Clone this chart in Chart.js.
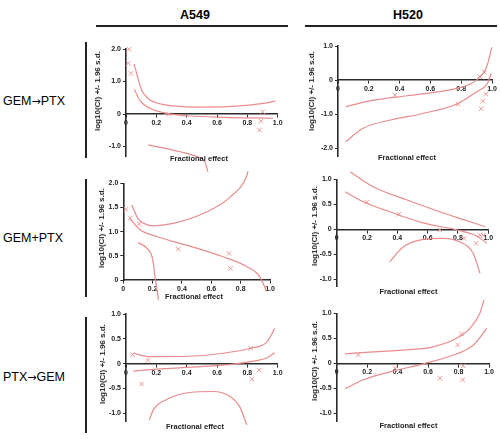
<!DOCTYPE html>
<html><head><meta charset="utf-8">
<script src="https://cdn.jsdelivr.net/npm/chart.js@4/dist/chart.umd.min.js"></script>
<style>
html,body{margin:0;padding:0;background:#fff;}
body{width:500px;height:439px;overflow:hidden;position:relative;font-family:"Liberation Sans",Arial,sans-serif;}
canvas{position:absolute;}
.t{position:absolute;white-space:nowrap;color:#111;transform:translate(-50%,-50%);line-height:1;}
.ry{transform:translate(-50%,-50%) rotate(-90deg);font-weight:bold;font-size:8px;color:#222;}
.fx{font-weight:bold;font-size:7.5px;color:#222;}
.hd{font-weight:bold;font-size:12.5px;color:#000;}
.rl{font-size:12.5px;color:#000;transform:translate(0,-50%);}
.ar{font-family:"DejaVu Sans",sans-serif;font-size:11px;}
.bar{position:absolute;background:#222;}
</style></head><body>
<div class="t hd" style="left:195px;top:15px">A549</div>
<div class="t hd" style="left:408px;top:15px">H520</div>
<div class="bar" style="left:96px;top:25px;width:192px;height:2px"></div>
<div class="bar" style="left:305px;top:25px;width:192px;height:2px"></div>
<div class="t rl" style="left:3px;top:101px">GEM<span class="ar">→</span>PTX</div>
<div class="t rl" style="left:3px;top:238px">GEM+PTX</div>
<div class="t rl" style="left:3px;top:377px">PTX<span class="ar">→</span>GEM</div>
<div class="bar" style="left:85px;top:42px;width:1.6px;height:116px"></div>
<div class="bar" style="left:85px;top:179px;width:1.6px;height:118px"></div>
<div class="bar" style="left:85px;top:317px;width:1.6px;height:116px"></div>
<script>
// ---- tick labels ----
const xTicks = [0, 0.2, 0.4, 0.6, 0.8, 1.0];
const yTicksA549Seq = [-1, 0, 1, 2];
const yTicksH520Seq = [-2, -1, 0, 1];
const yTicksA549Comb = [0, 0.5, 1, 1.5, 2];
const yTicksH520Comb = [-1, -0.5, 0, 0.5, 1];
const yTicksA549Rev = [-1, -0.5, 0, 0.5, 1];
const yTicksH520Rev = [-1, -0.5, 0, 0.5, 1];

// ---- A549 GEM->PTX ----
const a549SeqPoints = [[0.02,1.99],[0.015,1.56],[0.033,1.25],[0.283,-0.01],[0.9,0.07],[0.89,-0.22],[0.88,-0.49]];
const a549SeqUpper = [[0.053,1.54],[0.103,0.74],[0.125,0.58],[0.158,0.43],[0.31,0.25],[0.53,0.21],[0.75,0.25],[0.905,0.33],[0.987,0.4]];
const a549SeqLower = [[0.055,0.76],[0.092,0.41],[0.158,0.18],[0.27,0.02],[0.42,-0.06],[0.64,-0.1],[0.97,-0.13]];
const a549SeqBottom = [[0.147,-0.95],[0.356,-1.16],[0.466,-1.31],[0.52,-1.47],[0.54,-1.78]];

// ---- H520 GEM->PTX ----
const h520SeqPoints = [[0.37,-0.44],[0.78,-0.70],[0.92,0.10],[0.95,0.23],[0.96,-0.41],[0.94,-0.62],[0.93,-0.84]];
const h520SeqUpper = [[0.05,-0.78],[0.23,-0.59],[0.45,-0.46],[0.66,-0.34],[0.81,-0.2],[0.9,0.0],[0.955,0.29],[0.976,0.54],[0.998,0.96]];
const h520SeqLower = [[0.05,-1.81],[0.16,-1.42],[0.34,-1.17],[0.55,-0.98],[0.77,-0.70],[0.9,-0.34],[0.97,-0.10],[0.995,0.2]];

// ---- A549 GEM+PTX ----
const a549CombPoints = [[0.018,1.46],[0.046,1.28],[0.109,1.16],[0.375,0.64],[0.72,0.55],[0.73,0.24],[0.58,2.3]];
const a549CombUpper = [[0.057,1.55],[0.102,1.26],[0.148,1.16],[0.2,1.12],[0.34,1.17],[0.57,1.41],[0.73,1.72],[0.84,2.14],[0.85,2.25]];
const a549CombMiddle = [[0.046,1.26],[0.114,1.04],[0.228,0.9],[0.455,0.7],[0.68,0.48],[0.84,0.28],[0.93,0.07],[0.978,-0.24]];
const a549CombLower = [[0.102,0.77],[0.16,0.66],[0.2,0.43],[0.216,0.07],[0.24,-0.41]];

// ---- H520 GEM+PTX ----
const h520CombPoints = [[0.2,0.54],[0.41,0.3],[0.68,-0.01],[0.84,-0.18],[0.92,-0.28],[0.945,-0.11],[0.967,-0.12]];
const h520CombUpper = [[0.088,1.15],[0.24,0.85],[0.46,0.59],[0.68,0.35],[0.86,0.17],[0.98,0.05]];
const h520CombMiddle = [[0.055,0.75],[0.175,0.55],[0.35,0.35],[0.57,0.13],[0.79,-0.01],[0.92,-0.13],[0.99,-0.28]];
const h520CombArch = [[0.35,-0.65],[0.44,-0.35],[0.57,-0.2],[0.70,-0.18],[0.81,-0.25],[0.9,-0.48],[0.945,-0.88]];

// ---- A549 PTX->GEM ----
const a549RevPoints = [[0.044,0.18],[0.143,0.07],[0.103,-0.41],[0.822,0.31],[0.877,-0.13],[0.829,-0.31]];
const a549RevUpper = [[0.048,0.21],[0.158,0.14],[0.42,0.15],[0.64,0.21],[0.82,0.31],[0.93,0.44],[0.98,0.71]];
const a549RevLower = [[0.048,-0.15],[0.2,-0.11],[0.42,-0.07],[0.64,-0.03],[0.82,0.04],[0.93,0.12],[0.98,0.22]];
const a549RevArch = [[0.154,-1.13],[0.18,-0.93],[0.268,-0.72],[0.42,-0.58],[0.575,-0.56],[0.686,-0.66],[0.75,-0.87],[0.796,-1.23]];

// ---- H520 PTX->GEM ----
const h520RevPoints = [[0.142,0.17],[0.383,-0.1],[0.678,-0.3],[0.794,0.37],[0.82,0.59],[0.83,-0.05],[0.827,-0.33],[0.645,-1.45]];
const h520RevUpper = [[0.055,0.19],[0.24,0.23],[0.46,0.27],[0.634,0.33],[0.788,0.5],[0.875,0.7],[0.94,1.0],[0.967,1.27]];
const h520RevLower = [[0.055,-0.51],[0.175,-0.33],[0.35,-0.17],[0.57,-0.01],[0.79,0.19],[0.9,0.37],[0.985,0.7]];

const LINE = 'rgb(232,140,140)';
const MARK = 'rgb(236,150,150)';
const AX = '#2a2a2a';
const YW = 22;
const TICKFONT = {family:'"Liberation Sans", Arial, sans-serif', size:7, weight:'bold'};

const panels = [
  {cx:88, cy:28, cw:205, ch:152, L:126, R:277.7, T:49, B:156.3, ymin:-1.3, ymax:2.0, yTicks:yTicksA549Seq,
   curves:[a549SeqUpper,a549SeqLower,a549SeqBottom], points:a549SeqPoints, ty:[98,91], fx:[199,159]},
  {cx:296, cy:28, cw:204, ch:150, L:338, R:492, T:46, B:156.8, ymin:-2.25, ymax:1.0, yTicks:yTicksH520Seq,
   curves:[h520SeqUpper,h520SeqLower], points:h520SeqPoints, ty:[311.7,91], fx:[407,158]},
  {cx:88, cy:160, cw:205, ch:150, L:123.3, R:270, T:183.3, B:280, ymin:0, ymax:2.0, yTicks:yTicksA549Comb,
   curves:[a549CombUpper,a549CombMiddle,a549CombLower], points:a549CombPoints, ty:[101.7,228], fx:[194,296.5]},
  {cx:296, cy:165, cw:204, ch:135, L:336.7, R:488.3, T:179.3, B:286.8, ymin:-1.15, ymax:1.0, yTicks:yTicksH520Comb,
   curves:[h520CombUpper,h520CombMiddle,h520CombArch], points:h520CombPoints, ty:[315,226], fx:[408.5,291.5]},
  {cx:88, cy:300, cw:205, ch:139, L:126, R:277.7, T:314, B:421.8, ymin:-1.17, ymax:1.0, yTicks:yTicksA549Rev,
   curves:[a549RevUpper,a549RevLower,a549RevArch], points:a549RevPoints, ty:[103.3,364], fx:[195,426.5]},
  {cx:296, cy:290, cw:204, ch:149, L:336.7, R:489, T:313.3, B:421.8, ymin:-1.17, ymax:1.0, yTicks:yTicksH520Rev,
   curves:[h520RevUpper,h520RevLower], points:h520RevPoints, ty:[315,361], fx:[408.5,426]}
];

const toXY = arr => arr.map(p => ({x:p[0], y:p[1]}));
const fmt = v => v === 0 ? '0' : v.toFixed(1);

function addText(cls, txt, x, y){
  const d = document.createElement('div');
  d.className = 't ' + cls;
  d.textContent = txt;
  d.style.left = x + 'px'; d.style.top = y + 'px';
  document.body.appendChild(d);
}

panels.forEach(p => {
  const c = document.createElement('canvas');
  c.width = p.cw; c.height = p.ch;
  c.style.left = p.cx + 'px'; c.style.top = p.cy + 'px';
  c.style.width = p.cw + 'px'; c.style.height = p.ch + 'px';
  document.body.appendChild(c);
  const datasets = p.curves.map(cv => ({
    data: toXY(cv), showLine:true, borderColor:LINE, borderWidth:1.2,
    pointRadius:0, cubicInterpolationMode:'monotone', fill:false, clip:false
  }));
  datasets.push({
    data: toXY(p.points), showLine:false, pointStyle:'crossRot', pointRadius:3.2,
    borderColor:MARK, backgroundColor:'transparent', pointBorderWidth:1, clip:false
  });
  const grid = {display:true, drawOnChartArea:false, drawTicks:true, tickLength:3, color:AX, lineWidth:1};
  const border = {display:true, color:AX, width:1.6};
  new Chart(c, {
    type:'scatter',
    data:{datasets},
    options:{
      responsive:false, animation:false, events:[],
      layout:{padding:{left:p.L - p.cx - YW, right:p.cx + p.cw - p.R, top:p.T - p.cy, bottom:p.cy + p.ch - p.B}},
      plugins:{legend:{display:false}, tooltip:{enabled:false}},
      scales:{
        x:{type:'linear', min:0, max:1, position:{y:0},
           afterBuildTicks: s => { s.ticks = xTicks.map(v => ({value:v})); },
           ticks:{callback:fmt, font:TICKFONT, color:'#222', padding:2, maxRotation:0, autoSkip:false},
           grid, border},
        y:{type:'linear', min:p.ymin, max:p.ymax, position:'left',
           afterFit: s => { s.width = YW; },
           afterBuildTicks: s => { s.ticks = p.yTicks.map(v => ({value:v})); },
           ticks:{callback:fmt, font:TICKFONT, color:'#222', padding:2, autoSkip:false},
           grid, border}
      }
    }
  });
  addText('ry', 'log10(CI) +/- 1.96 s.d.', p.ty[0], p.ty[1]);
  addText('fx', 'Fractional effect', p.fx[0], p.fx[1]);
});
</script>
</body></html>
